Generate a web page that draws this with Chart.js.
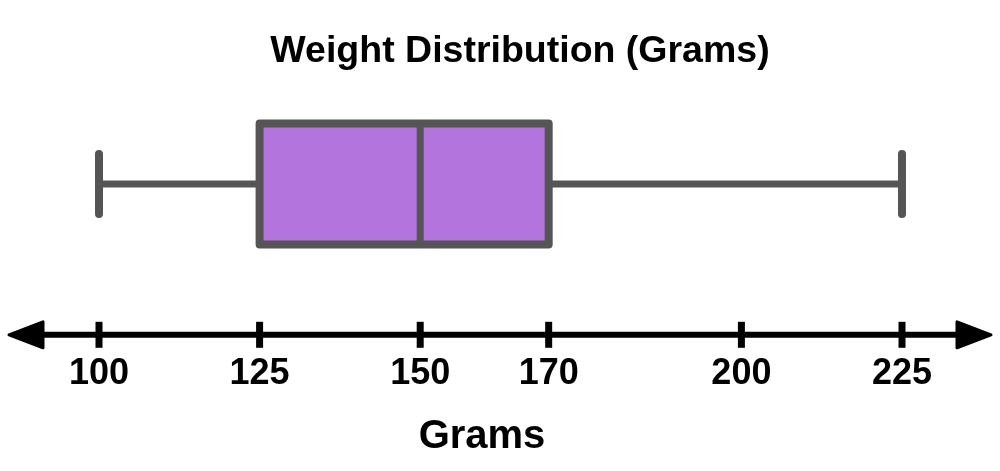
<!DOCTYPE html>
<html>
<head>
<meta charset="utf-8">
<script src="https://cdn.jsdelivr.net/npm/chart.js@4.4.1/dist/chart.umd.min.js"></script>
<style>
  html, body { margin: 0; padding: 0; background: #ffffff; }
  #wrap { width: 1000px; height: 471px; }
</style>
</head>
<body>
<div id="wrap"><canvas id="chart" width="1000" height="471"></canvas></div>
<script>
// Five-number summary for the single box
const boxLabels = ["Weight"]
const boxMin = [100]
const boxQ1 = [125]
const boxMedian = [150]
const boxQ3 = [170]
const boxMax = [225]

// Number line ticks
const tickValues = [100, 125, 150, 170, 200, 225]

const FONT = "'Liberation Sans', Arial, Helvetica, sans-serif"

const colors = {
  fill: "#b374dd",
  stroke: "#555555",
  axis: "#000000",
  text: "#000000"
}

// Draws the number line (with arrows) and the box plot using the chart scales
const boxPlotPlugin = {
  id: "boxPlot",
  afterDraw(chart, args, opts) {
    const { ctx, chartArea } = chart
    const x = chart.scales.x
    const y = chart.scales.y
    const axisY = chartArea.bottom

    ctx.save()

    // axis line
    ctx.strokeStyle = colors.axis
    ctx.fillStyle = colors.axis
    ctx.lineWidth = 6
    ctx.beginPath()
    ctx.moveTo(opts.arrowLeft + 20, axisY)
    ctx.lineTo(opts.arrowRight - 20, axisY)
    ctx.stroke()

    // arrow heads
    ctx.lineJoin = "round"
    ctx.lineWidth = 3
    const arrow = (tip, dir) => {
      ctx.beginPath()
      ctx.moveTo(tip, axisY)
      ctx.lineTo(tip + dir * opts.arrowLen, axisY - opts.arrowHalf)
      ctx.lineTo(tip + dir * opts.arrowLen, axisY + opts.arrowHalf)
      ctx.closePath()
      ctx.fill()
      ctx.stroke()
    }
    arrow(opts.arrowLeft + 2, 1)
    arrow(opts.arrowRight - 2, -1)

    // tick marks across the line
    ctx.lineWidth = 7
    tickValues.forEach(v => {
      const px = x.getPixelForValue(v)
      ctx.beginPath()
      ctx.moveTo(px, axisY - 13)
      ctx.lineTo(px, axisY + 13)
      ctx.stroke()
    })

    // box plot
    boxLabels.forEach((label, i) => {
      const cy = y.getPixelForValue(opts.rowValue)
      const half = opts.boxHalf
      const xMin = x.getPixelForValue(boxMin[i])
      const xQ1 = x.getPixelForValue(boxQ1[i])
      const xMed = x.getPixelForValue(boxMedian[i])
      const xQ3 = x.getPixelForValue(boxQ3[i])
      const xMax = x.getPixelForValue(boxMax[i])

      ctx.strokeStyle = colors.stroke
      ctx.lineCap = "round"

      // whiskers
      ctx.lineWidth = 7
      ctx.beginPath()
      ctx.moveTo(xMin, cy)
      ctx.lineTo(xQ1, cy)
      ctx.moveTo(xQ3, cy)
      ctx.lineTo(xMax, cy)
      ctx.stroke()

      // whisker caps
      ctx.lineWidth = 8
      ctx.beginPath()
      ctx.moveTo(xMin, cy - opts.capHalf)
      ctx.lineTo(xMin, cy + opts.capHalf)
      ctx.moveTo(xMax, cy - opts.capHalf)
      ctx.lineTo(xMax, cy + opts.capHalf)
      ctx.stroke()

      // box
      ctx.lineCap = "butt"
      ctx.lineJoin = "round"
      ctx.fillStyle = colors.fill
      ctx.beginPath()
      ctx.rect(xQ1, cy - half, xQ3 - xQ1, half * 2)
      ctx.fill()
      ctx.stroke()

      // median
      ctx.lineWidth = 7
      ctx.beginPath()
      ctx.moveTo(xMed, cy - half)
      ctx.lineTo(xMed, cy + half)
      ctx.stroke()
    })

    // axis title
    ctx.fillStyle = colors.text
    ctx.font = "bold 40px " + FONT
    ctx.textAlign = "center"
    ctx.textBaseline = "alphabetic"
    ctx.fillText(opts.axisTitle, opts.axisTitleX, opts.axisTitleY)

    ctx.restore()
  }
}

// 100 -> 99px, 225 -> 902px with chart area 40..1000
const PX_PER_UNIT = (902 - 99) / 125
const xMinValue = 100 - (99 - 40) / PX_PER_UNIT
const xMaxValue = 100 + (1000 - 99) / PX_PER_UNIT

new Chart(document.getElementById("chart").getContext("2d"), {
  type: "scatter",
  data: { datasets: [] },
  plugins: [boxPlotPlugin],
  options: {
    responsive: false,
    devicePixelRatio: 1,
    animation: false,
    layout: {
      padding: { left: 40, right: 0, top: 0, bottom: 65 }
    },
    plugins: {
      legend: { display: false },
      tooltip: { enabled: false },
      title: {
        display: true,
        text: "Weight Distribution (Grams)",
        color: colors.text,
        font: { family: FONT, size: 37.5, weight: "bold" },
        padding: { top: 29, bottom: 10 }
      },
      boxPlot: {
        rowValue: 0.601,
        boxHalf: 60.5,
        capHalf: 30,
        arrowLeft: 7,
        arrowRight: 993,
        arrowLen: 34,
        arrowHalf: 13,
        axisTitle: "Grams",
        axisTitleX: 482,
        axisTitleY: 448
      }
    },
    scales: {
      x: {
        type: "linear",
        min: xMinValue,
        max: xMaxValue,
        afterBuildTicks: axis => {
          axis.ticks = tickValues.map(v => ({ value: v }))
        },
        grid: { display: false },
        border: { display: false },
        ticks: {
          color: colors.text,
          padding: 10,
          autoSkip: false,
          maxRotation: 0,
          font: { family: FONT, size: 36, weight: "bold" },
          callback: v => String(v)
        }
      },
      y: {
        type: "linear",
        display: false,
        min: 0,
        max: 1
      }
    }
  }
})
</script>
</body>
</html>
